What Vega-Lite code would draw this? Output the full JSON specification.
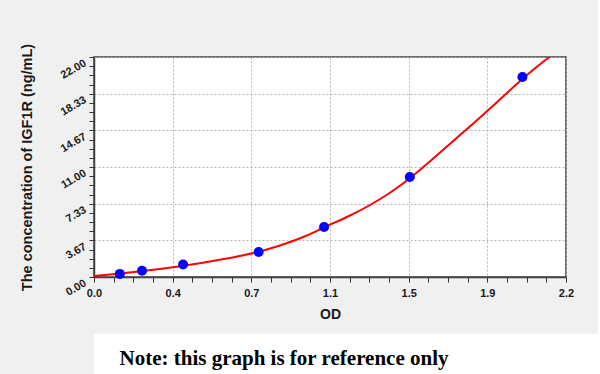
{
  "$schema": "https://vega.github.io/schema/vega-lite/v6.json",
  "background": "#f0f0f0",
  "padding": {"left": 18, "top": 42, "right": 0, "bottom": 0},
  "spacing": 12,
  "datasets": {
    "curve": [
      {"od": 0.0, "conc": 0.10}, {"od": 0.1, "conc": 0.30}, {"od": 0.2, "conc": 0.52},
      {"od": 0.3, "conc": 0.77}, {"od": 0.4, "conc": 1.05}, {"od": 0.5, "conc": 1.37},
      {"od": 0.6, "conc": 1.74}, {"od": 0.7, "conc": 2.15}, {"od": 0.8, "conc": 2.65},
      {"od": 0.9, "conc": 3.30}, {"od": 1.0, "conc": 4.10}, {"od": 1.1, "conc": 5.10},
      {"od": 1.2, "conc": 6.05}, {"od": 1.3, "conc": 7.15}, {"od": 1.4, "conc": 8.45},
      {"od": 1.5, "conc": 10.0}, {"od": 1.6, "conc": 11.8}, {"od": 1.7, "conc": 13.65},
      {"od": 1.8, "conc": 15.5}, {"od": 1.9, "conc": 17.4}, {"od": 2.0, "conc": 19.35},
      {"od": 2.1, "conc": 21.15}, {"od": 2.155, "conc": 22.05}
    ],
    "standards": [
      {"od": 0.122, "conc": 0.31}, {"od": 0.227, "conc": 0.63}, {"od": 0.421, "conc": 1.25},
      {"od": 0.778, "conc": 2.5}, {"od": 1.087, "conc": 5}, {"od": 1.492, "conc": 10},
      {"od": 2.024, "conc": 20}
    ],
    "note": [{"text": "Note: this graph is for reference only"}]
  },
  "config": {
    "axis": {
      "labelFont": "Liberation Sans", "labelFontWeight": "bold", "labelFontSize": 11, "labelColor": "#1a1a1a",
      "titleFont": "Liberation Sans", "titleFontWeight": "bold", "titleColor": "#1a1a1a",
      "gridDash": [2, 2], "gridColor": "#b4b4b4", "gridWidth": 1,
      "tickColor": "#333333", "tickSize": 5, "tickWidth": 1, "tickCount": 50,
      "domainColor": "#404040", "domainWidth": 1.5,
      "labelOverlap": false, "labelFlush": false
    }
  },
  "vconcat": [
    {
      "width": 472,
      "height": 220,
      "view": {"fill": "white", "stroke": "#404040", "strokeWidth": 1.5},
      "layer": [
        {
          "data": {"name": "curve"},
          "mark": {"type": "line", "color": "#ff0000", "strokeWidth": 2, "interpolate": "monotone", "clip": true},
          "encoding": {
            "x": {
              "field": "od", "type": "quantitative",
              "scale": {"domain": [0, 2.23], "nice": false, "zero": false},
              "axis": {
                "title": "OD",
                "titleFontSize": 14,
                "tickCount": 50,
                "values": [0, 0.0929167, 0.1858333, 0.27875, 0.3716667, 0.4645833, 0.5575, 0.6504167, 0.7433333, 0.83625, 0.9291667, 1.0220833, 1.115, 1.2079167, 1.3008333, 1.39375, 1.4866667, 1.5795833, 1.6725, 1.7654167, 1.8583333, 1.95125, 2.0441667, 2.1370833, 2.23],
                "labelExpr": "round(datum.value / 0.09291667) % 4 == 0 ? format(datum.value, '.1f') : ''",
                "gridOpacity": {"condition": {"test": "round(datum.value / 0.09291667) % 4 == 0", "value": 1}, "value": 0},
                "labelPadding": 5,
                "titlePadding": 9
              }
            },
            "y": {
              "field": "conc", "type": "quantitative",
              "scale": {"domain": [0, 22], "nice": false, "zero": false},
              "axis": {
                "title": "The concentration of IGF1R (ng/mL)",
                "titleFontSize": 14.5,
                "tickCount": 50,
                "values": [0, 0.9166667, 1.8333333, 2.75, 3.6666667, 4.5833333, 5.5, 6.4166667, 7.3333333, 8.25, 9.1666667, 10.0833333, 11, 11.9166667, 12.8333333, 13.75, 14.6666667, 15.5833333, 16.5, 17.4166667, 18.3333333, 19.25, 20.1666667, 21.0833333, 22],
                "labelExpr": "round(datum.value / 0.91666667) % 4 == 0 ? format(datum.value, '.2f') : ''",
                "gridOpacity": {"condition": {"test": "round(datum.value / 0.91666667) % 4 == 0", "value": 1}, "value": 0},
                "labelAngle": -30,
                "labelAlign": "right",
                "labelBaseline": "top",
                "labelPadding": 7,
                "titlePadding": 24
              }
            }
          }
        },
        {
          "data": {"name": "standards"},
          "mark": {"type": "circle", "color": "#0000ff", "size": 100, "opacity": 1},
          "encoding": {
            "x": {"field": "od", "type": "quantitative"},
            "y": {"field": "conc", "type": "quantitative"}
          }
        }
      ]
    },
    {
      "width": 504,
      "height": 40,
      "view": {"fill": "white", "stroke": null},
      "data": {"name": "note"},
      "mark": {"type": "text", "font": "Liberation Serif", "fontWeight": "bold", "fontSize": 21, "dx": -62, "dy": 5, "color": "#000000"},
      "encoding": {"text": {"field": "text"}}
    }
  ]
}
